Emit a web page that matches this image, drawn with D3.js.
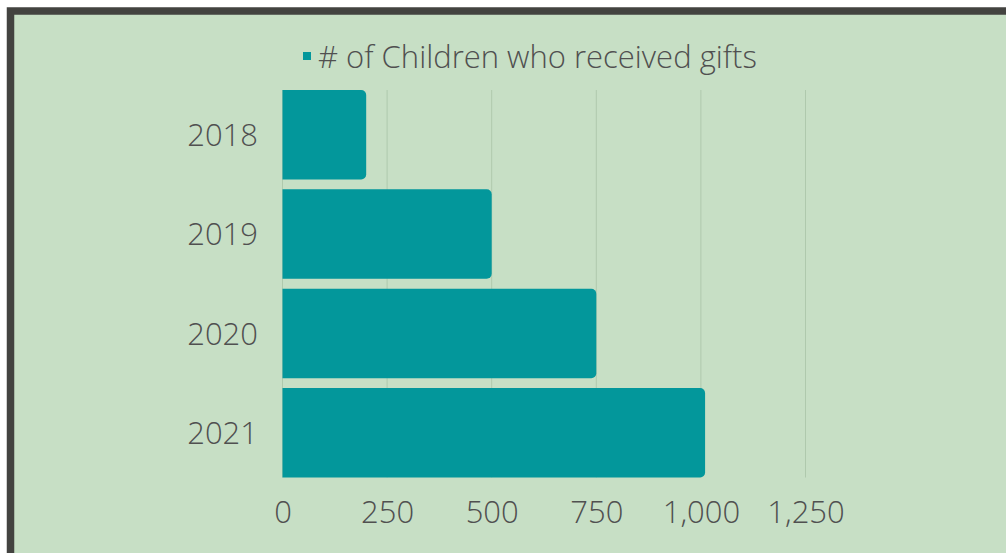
<!DOCTYPE html>
<html>
<head>
<meta charset="utf-8">
<script src="https://cdn.jsdelivr.net/npm/d3@7"></script>
<style>
  body { margin: 0; background: #fff; }
  text { font-family: "Open Sans", sans-serif; font-weight: 300; fill: #505050; }
</style>
</head>
<body>
<svg id="chart" width="1006" height="553"></svg>
<script>
const years = ["2018", "2019", "2020", "2021"]
const children = [200, 500, 750, 1010]
const xTicks = [0, 250, 500, 750, 1000, 1250]
const seriesName = "# of Children who received gifts"

const svg = d3.select('#chart')

// chart frame, cut off at right and bottom
svg.append('rect')
    .attr('x', 10.5).attr('y', 11)
    .attr('width', 1100).attr('height', 600)
    .attr('fill', '#c7dfc5')
    .attr('stroke', '#434340')
    .attr('stroke-width', 7.5)

const x = d3.scaleLinear().domain([0, 1250]).range([282.5, 805.5])
const y = d3.scaleBand().domain(years).range([90, 477.5]).paddingInner(0.1).paddingOuter(0)

// gridlines
svg.append('g')
    .selectAll('line')
    .data(xTicks)
    .enter()
    .append('line')
    .attr('x1', d => x(d)).attr('x2', d => x(d))
    .attr('y1', 90).attr('y2', 477.5)
    .attr('stroke', '#afc9ad')
    .attr('stroke-width', 1)

// bars with rounded right end
const r = 5
svg.append('g')
    .selectAll('path')
    .data(years)
    .enter()
    .append('path')
    .attr('d', (d, i) => {
        const x0 = x(0), x1 = x(children[i]), y0 = y(d), y1 = y(d) + y.bandwidth()
        const p = d3.path()
        p.moveTo(x0, y0)
        p.lineTo(x1 - r, y0)
        p.arcTo(x1, y0, x1, y0 + r, r)
        p.lineTo(x1, y1 - r)
        p.arcTo(x1, y1, x1 - r, y1, r)
        p.lineTo(x0, y1)
        p.closePath()
        return p.toString()
    })
    .attr('fill', '#03979b')

// y labels
svg.append('g')
    .selectAll('text')
    .data(years)
    .enter()
    .append('text')
    .text(d => d)
    .attr('x', 258)
    .attr('y', d => y(d) + y.bandwidth() / 2)
    .attr('dy', '0.36em')
    .attr('text-anchor', 'end')
    .style('font-size', '31px')

// x axis labels
const xAxis = d3.axisBottom(x)
    .tickValues(xTicks)
    .tickFormat(d3.format(','))
    .tickSize(0)
    .tickPadding(0)

const gx = svg.append('g')
    .attr('transform', 'translate(0, 501)')
    .call(xAxis)
gx.select('.domain').remove()
gx.selectAll('text')
    .attr('dy', '0.71em')
    .style('font-size', '31px')
    .style('font-family', '"Open Sans", sans-serif')
    .attr('fill', '#505050')

// legend
const legend = svg.append('g')
legend.append('rect')
    .attr('x', 303).attr('y', 52)
    .attr('width', 8).attr('height', 8)
    .attr('fill', '#03979b')
legend.append('text')
    .text(seriesName)
    .attr('x', 318)
    .attr('y', 57)
    .attr('dy', '0.36em')
    .style('font-size', '31px')
</script>
</body>
</html>
